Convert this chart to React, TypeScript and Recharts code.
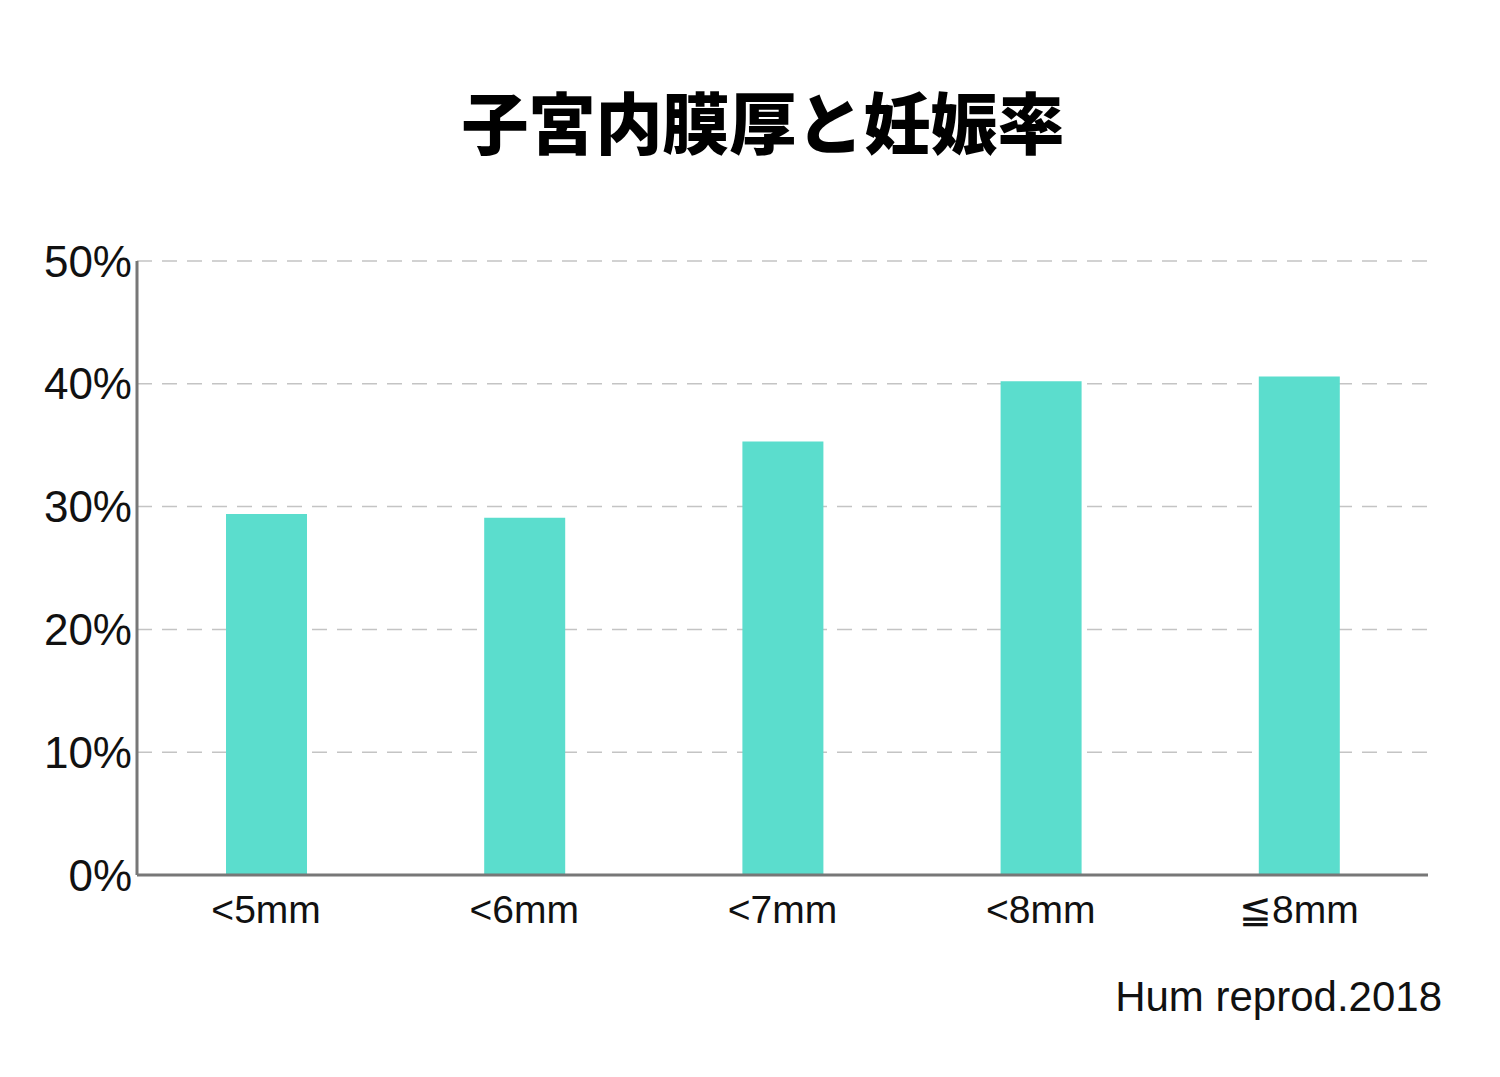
import React from "react";
import { BarChart, Bar, XAxis, YAxis, CartesianGrid } from "recharts";

const categories = ["<5mm", "<6mm", "<7mm", "<8mm", "≦8mm"];
const pregnancyRate = [29.4, 29.1, 35.3, 40.2, 40.6];
const yTicks = [0, 10, 20, 30, 40, 50];

const data = categories.map((name, i) => ({ name, rate: pregnancyRate[i] }));

const latin = "'Liberation Sans', Arial, sans-serif";

export default function App() {
  return (
    <div style={{ position: "absolute", left: 0, top: 0, width: 1500, height: 1077, background: "#fff" }}>
      <div
        style={{
          position: "absolute",
          left: 0,
          width: 1526,
          top: 70,
          textAlign: "center",
          fontFamily: "'Noto Sans CJK JP', sans-serif",
          fontWeight: 900,
          fontSize: 67,
          lineHeight: "100px",
          color: "#000",
        }}
      >
        子宮内膜厚と妊娠率
      </div>
      <BarChart
        width={1500}
        height={1077}
        data={data}
        margin={{ top: 261, right: 72, left: 37, bottom: 142 }}
      >
        <CartesianGrid
          vertical={false}
          stroke="#c4c4c4"
          strokeWidth={1.5}
          strokeDasharray="15 10"
        />
        <XAxis
          dataKey="name"
          height={60}
          tickLine={false}
          axisLine={{ stroke: "#777", strokeWidth: 3 }}
          tickMargin={14}
          tick={{ fontSize: 39, fontFamily: latin, fill: "#111" }}
        />
        <YAxis
          width={100}
          domain={[0, 50]}
          ticks={yTicks}
          tickFormatter={(v) => `${v}%`}
          tickLine={false}
          tickSize={0}
          tickMargin={5}
          axisLine={{ stroke: "#777", strokeWidth: 3 }}
          tick={{ fontSize: 44, fontFamily: latin, fill: "#111" }}
        />
        <Bar dataKey="rate" fill="#5bddcd" barSize={81} isAnimationActive={false} />
      </BarChart>
      <div
        style={{
          position: "absolute",
          right: 58,
          top: 972,
          fontFamily: latin,
          fontSize: 42,
          lineHeight: "50px",
          color: "#111",
        }}
      >
        Hum reprod.2018
      </div>
    </div>
  );
}
